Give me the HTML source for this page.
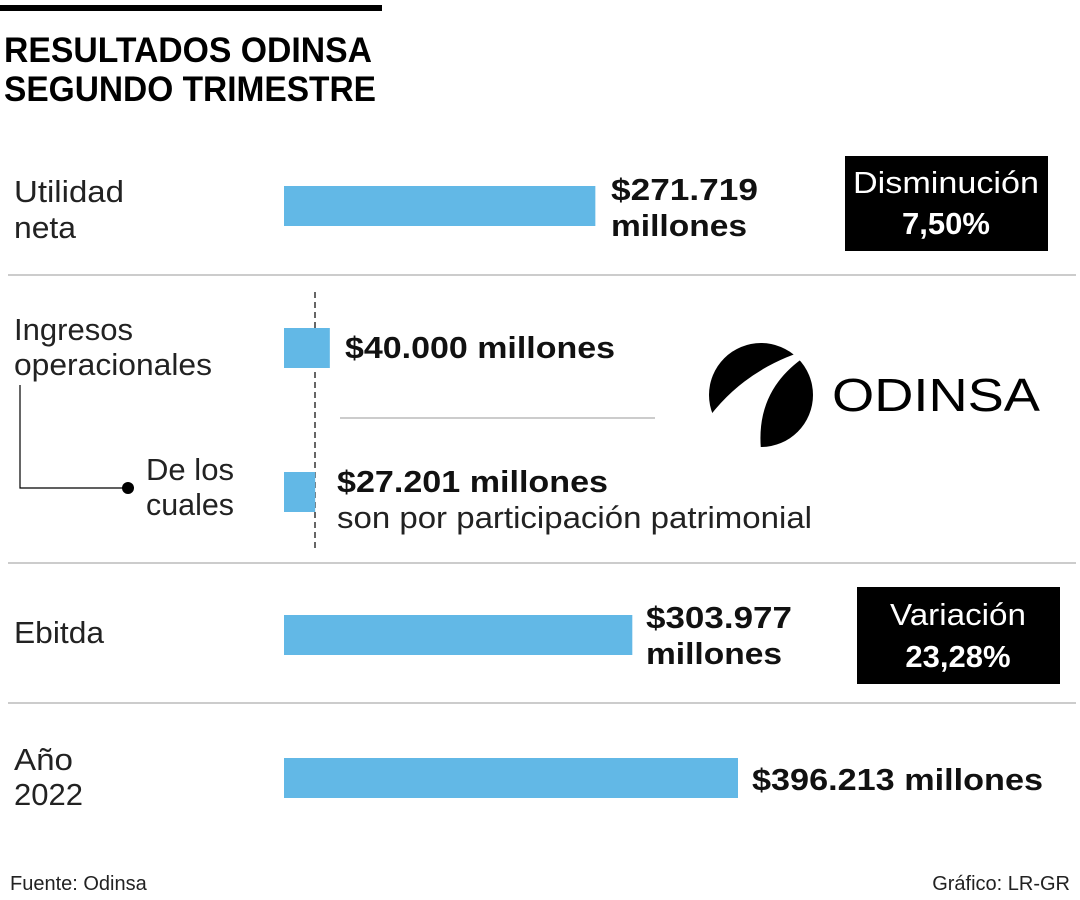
<!DOCTYPE html>
<html><head><meta charset="utf-8"><style>
html,body{margin:0;padding:0;background:#fff}
svg{display:block;font-family:"Liberation Sans",sans-serif}
</style></head><body>
<svg width="1080" height="900" viewBox="0 0 1080 900">
<rect x="0" y="5" width="382" height="6" fill="#000"/>
<text x="4" y="62" font-size="35" font-weight="bold" textLength="368" lengthAdjust="spacingAndGlyphs">RESULTADOS ODINSA</text>
<text x="4" y="101" font-size="35" font-weight="bold" textLength="372" lengthAdjust="spacingAndGlyphs">SEGUNDO TRIMESTRE</text>

<g stroke="#bbb" stroke-width="1.5">
<line x1="8" y1="275" x2="1076" y2="275"/>
<line x1="8" y1="563" x2="1076" y2="563"/>
<line x1="8" y1="703" x2="1076" y2="703"/>
<line x1="340" y1="418" x2="655" y2="418"/>
</g>
<line x1="315" y1="292" x2="315" y2="552" stroke="#000" stroke-width="1.2" stroke-dasharray="6,4"/>
<polyline points="20,385 20,488 128,488" fill="none" stroke="#000" stroke-width="1.2"/>
<circle cx="128" cy="488" r="6" fill="#000"/>

<g font-size="31" fill="#222">
<text x="14" y="202" textLength="110" lengthAdjust="spacingAndGlyphs">Utilidad</text>
<text x="14" y="238" textLength="62" lengthAdjust="spacingAndGlyphs">neta</text>
<text x="14" y="340" textLength="119" lengthAdjust="spacingAndGlyphs">Ingresos</text>
<text x="14" y="375" textLength="198" lengthAdjust="spacingAndGlyphs">operacionales</text>
<text x="146" y="480" textLength="88" lengthAdjust="spacingAndGlyphs">De los</text>
<text x="146" y="515" textLength="88" lengthAdjust="spacingAndGlyphs">cuales</text>
<text x="14" y="643" textLength="90" lengthAdjust="spacingAndGlyphs">Ebitda</text>
<text x="14" y="770" textLength="59" lengthAdjust="spacingAndGlyphs">Año</text>
<text x="14" y="805" textLength="69" lengthAdjust="spacingAndGlyphs">2022</text>
<text x="337" y="528" textLength="475" lengthAdjust="spacingAndGlyphs">son por participación patrimonial</text>
</g>

<g id="bars"></g>

<g font-size="31" font-weight="bold" fill="#111">
<text x="611" y="200" textLength="147" lengthAdjust="spacingAndGlyphs">$271.719</text>
<text x="611" y="236" textLength="136" lengthAdjust="spacingAndGlyphs">millones</text>
<text x="345" y="358" textLength="270" lengthAdjust="spacingAndGlyphs">$40.000 millones</text>
<text x="337" y="492" textLength="271" lengthAdjust="spacingAndGlyphs">$27.201 millones</text>
<text x="646" y="628" textLength="146" lengthAdjust="spacingAndGlyphs">$303.977</text>
<text x="646" y="664" textLength="136" lengthAdjust="spacingAndGlyphs">millones</text>
<text x="752" y="790" textLength="291" lengthAdjust="spacingAndGlyphs">$396.213 millones</text>
</g>

<rect x="845" y="156" width="203" height="95" fill="#000"/>
<text x="946" y="193" font-size="31" fill="#fff" text-anchor="middle" textLength="186" lengthAdjust="spacingAndGlyphs">Disminución</text>
<text x="946" y="234" font-size="31" font-weight="bold" fill="#fff" text-anchor="middle">7,50%</text>
<rect x="857" y="587" width="203" height="97" fill="#000"/>
<text x="958" y="625" font-size="31" fill="#fff" text-anchor="middle" textLength="136" lengthAdjust="spacingAndGlyphs">Variación</text>
<text x="958" y="667" font-size="31" font-weight="bold" fill="#fff" text-anchor="middle">23,28%</text>

<g>
<circle cx="761" cy="395" r="52" fill="#000"/>
<path d="M700,430 Q740,368 814,348 L814,354 L806,356 Q752,392 762,458 L700,458 Z" fill="#fff"/>
<text x="832" y="411" font-size="46" fill="#000" textLength="208" lengthAdjust="spacingAndGlyphs">ODINSA</text>
</g>

<text x="10" y="890" font-size="20" fill="#222">Fuente: Odinsa</text>
<text x="1070" y="890" font-size="20" fill="#222" text-anchor="end">Gráfico: LR-GR</text>
</svg>
<script>
const categories = ["utilidad-neta","ingresos-operacionales","participacion-patrimonial","ebitda","ano-2022"];
const values = [271719, 40000, 27201, 303977, 396213];
const maxValue = 396213;
const x0 = 284, xWidth = 454;
const rowTops = [186, 328, 472, 615, 758];
function xScale(v){ return xWidth * v / maxValue; }
const g = document.getElementById('bars');
values.forEach((v,i)=>{
  const r = document.createElementNS('http://www.w3.org/2000/svg','rect');
  r.setAttribute('x', x0);
  r.setAttribute('y', rowTops[i]);
  r.setAttribute('width', xScale(v));
  r.setAttribute('height', 40);
  r.setAttribute('fill', '#62b8e6');
  
  
  g.appendChild(r);
});
</script>
</body></html>
